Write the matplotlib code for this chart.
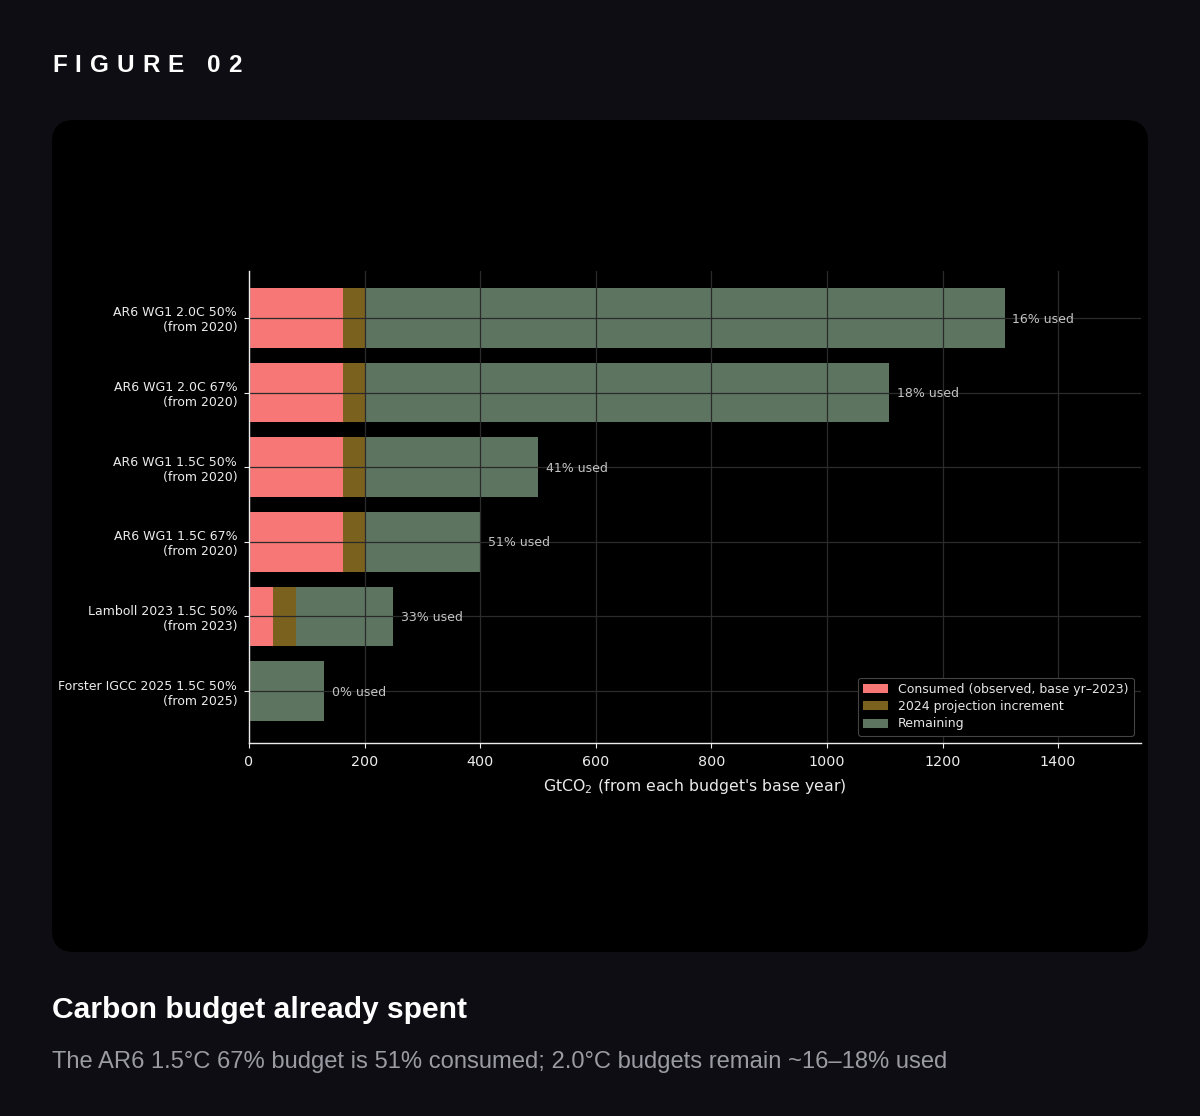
import matplotlib
matplotlib.use("Agg")
import matplotlib.pyplot as plt
from matplotlib.patches import FancyBboxPatch
import numpy as np

# ---- data ----
labels = [
    "AR6 WG1 2.0C 50%\n(from 2020)",
    "AR6 WG1 2.0C 67%\n(from 2020)",
    "AR6 WG1 1.5C 50%\n(from 2020)",
    "AR6 WG1 1.5C 67%\n(from 2020)",
    "Lamboll 2023 1.5C 50%\n(from 2023)",
    "Forster IGCC 2025 1.5C 50%\n(from 2025)",
]
consumed = [162, 162, 162, 162, 41, 0]
increment = [41, 41, 41, 41, 41, 0]
totals = [1308, 1108, 500, 400, 250, 130]
pct_used = [16, 18, 41, 51, 33, 0]
xticks = [0, 200, 400, 600, 800, 1000, 1200, 1400]

# ---- style ----
BG = "#0e0d13"
PANEL = "#000000"
C_CONS = "#f77676"
C_INC = "#7a611d"
C_REM = "#5d7560"

W, H = 1200, 1116
fig = plt.figure(figsize=(W / 100, H / 100), dpi=100, facecolor=BG)

# background / frame layer in pixel coordinates
bg = fig.add_axes([0, 0, 1, 1], zorder=-1)
bg.set_xlim(0, W)
bg.set_ylim(H, 0)
bg.axis("off")
bg.add_patch(FancyBboxPatch((52, 120), 1096, 832,
                            boxstyle="round,pad=0,rounding_size=22",
                            facecolor=PANEL, edgecolor="none"))

# spaced "FIGURE 02"
fig.canvas.draw()
renderer = fig.canvas.get_renderer()
x = 52.0
for ch in "FIGURE 02":
    t = bg.text(x, 66, ch, color="white", fontsize=17.5, fontweight="bold",
                family="Liberation Sans", va="center", ha="left")
    bb = t.get_window_extent(renderer=renderer)
    x += bb.width + 8.0

bg.text(52, 1010, "Carbon budget already spent", color="white", fontsize=21.6,
        fontweight="bold", family="Liberation Sans", va="center", ha="left")
bg.text(52, 1062, "The AR6 1.5°C 67% budget is 51% consumed; 2.0°C budgets remain ~16–18% used",
        color="#9b9ba3", fontsize=17.1, family="Liberation Sans", va="center", ha="left")

# ---- chart ----
ax = fig.add_axes([249 / W, 1 - 743 / H, 892 / W, 472 / H])
ax.set_facecolor(PANEL)

y = np.arange(len(labels))
cons = np.array(consumed, dtype=float)
inc = np.array(increment, dtype=float)
tot = np.array(totals, dtype=float)
rem = tot - cons - inc

ax.barh(y, cons, height=0.8, color=C_CONS, label="Consumed (observed, base yr\u20132023)")
ax.barh(y, inc, left=cons, height=0.8, color=C_INC, label="2024 projection increment")
ax.barh(y, rem, left=cons + inc, height=0.8, color=C_REM, label="Remaining")

for yi, t, p in zip(y, tot, pct_used):
    ax.text(t + tot.max() * 0.01, yi + 0.015, f"{p}% used", color="#c4c4c4", fontsize=9,
            va="center", ha="left")

ax.set_yticks(y)
ax.set_yticklabels(labels, fontsize=9, color="#eaeaea")
ax.set_ylim(5.696, -0.629)
ax.set_xlim(0, tot.max() * 1.18)
ax.set_xticks(xticks)
ax.set_xticklabels([str(v) for v in xticks], fontsize=10.3, color="white")
ax.set_xlabel("GtCO$_2$ (from each budget's base year)", fontsize=11.3,
              color="#eaeaea", labelpad=6)

ax.grid(True, color="#2b2b2b", linewidth=0.9)
ax.set_axisbelow(False)
for s in ("top", "right"):
    ax.spines[s].set_visible(False)
for s in ("left", "bottom"):
    ax.spines[s].set_color("#ececec")
    ax.spines[s].set_linewidth(1.0)
    ax.spines[s].set_zorder(3)
ax.tick_params(colors="#ececec", length=3.5, width=0.8)
ax.tick_params(axis="y", pad=5.0)
ax.tick_params(axis="x", pad=5.0)

leg = ax.legend(loc="lower right", fontsize=9, facecolor="#000000",
                edgecolor="#444444", labelcolor="#e6e6e6", framealpha=1.0,
                labelspacing=0.35, borderaxespad=0.6)
leg.get_frame().set_linewidth(0.8)
leg.set_zorder(5)

fig.savefig("out.png", dpi=100, facecolor=BG)
